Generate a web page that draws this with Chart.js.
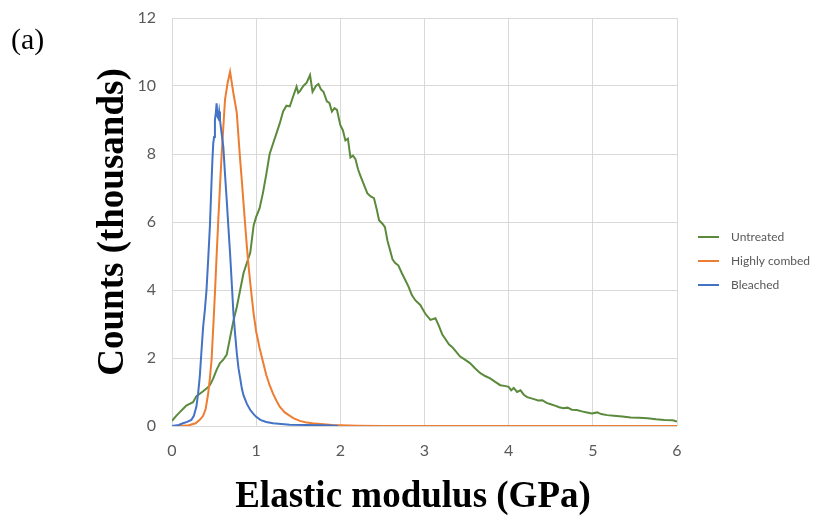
<!DOCTYPE html>
<html>
<head>
<meta charset="utf-8">
<script src="https://cdn.jsdelivr.net/npm/chart.js@4/dist/chart.umd.min.js"></script>
<style>
  html, body { margin: 0; padding: 0; background: #fff; }
  #wrap { width: 825px; height: 519px; position: relative; }
</style>
</head>
<body>
<div id="wrap"><canvas id="chart" width="825" height="519"></canvas></div>
<script>
// Elastic modulus (GPa) vs counts (thousands)
const untreatedX = [0.0, 0.05, 0.09, 0.13, 0.17, 0.21, 0.25, 0.29, 0.33, 0.37, 0.41, 0.45, 0.49, 0.53, 0.57, 0.61, 0.65, 0.69, 0.73, 0.77,
    0.81, 0.85, 0.89, 0.93, 0.97, 1.0, 1.04, 1.08, 1.12, 1.16, 1.20, 1.24, 1.28, 1.32, 1.36, 1.40, 1.44, 1.48, 1.50, 1.52,
    1.56, 1.60, 1.64, 1.67, 1.71, 1.74, 1.77, 1.80, 1.84, 1.87, 1.90, 1.93, 1.96, 2.0, 2.03, 2.06, 2.09, 2.12, 2.15, 2.18,
    2.21, 2.24, 2.28, 2.32, 2.36, 2.40, 2.43, 2.46, 2.50, 2.53, 2.56, 2.59, 2.62, 2.65, 2.69, 2.73, 2.77, 2.81, 2.85, 2.89,
    2.95, 3.01, 3.07, 3.13, 3.17, 3.21, 3.25, 3.29, 3.33, 3.37, 3.42, 3.48, 3.54, 3.60, 3.66, 3.72, 3.78, 3.84, 3.90, 3.95,
    4.0, 4.03, 4.06, 4.10, 4.14, 4.18, 4.22, 4.26, 4.30, 4.35, 4.40, 4.45, 4.50, 4.55, 4.60, 4.65, 4.70, 4.75, 4.81, 4.87,
    4.93, 4.99, 5.05, 5.10, 5.17, 5.25, 5.35, 5.45, 5.55, 5.65, 5.75, 5.85, 5.95, 6.0];
const untreatedY = [0.15, 0.3, 0.4, 0.5, 0.6, 0.65, 0.7, 0.88, 0.95, 1.02, 1.1, 1.2, 1.4, 1.65, 1.85, 1.95, 2.1, 2.6, 3.1, 3.5,
    4.0, 4.5, 4.8, 5.1, 5.9, 6.15, 6.4, 6.85, 7.4, 8.0, 8.3, 8.6, 8.9, 9.25, 9.42, 9.4, 9.7, 9.98, 9.8, 9.85,
    10.0, 10.1, 10.32, 9.83, 10.0, 10.06, 9.9, 9.83, 9.55, 9.5, 9.25, 9.35, 9.3, 8.85, 8.7, 8.4, 8.45, 7.9, 7.95, 7.85,
    7.55, 7.35, 7.1, 6.85, 6.75, 6.7, 6.4, 6.05, 5.95, 5.85, 5.45, 5.18, 4.9, 4.8, 4.72, 4.5, 4.3, 4.1, 3.85, 3.7,
    3.56, 3.3, 3.12, 3.17, 2.95, 2.7, 2.55, 2.4, 2.32, 2.2, 2.05, 1.95, 1.85, 1.7, 1.56, 1.47, 1.4, 1.3, 1.2, 1.18,
    1.15, 1.05, 1.12, 1.0, 1.05, 0.92, 0.85, 0.82, 0.79, 0.75, 0.76, 0.68, 0.64, 0.6, 0.55, 0.52, 0.54, 0.48, 0.47, 0.43,
    0.40, 0.37, 0.40, 0.35, 0.32, 0.30, 0.28, 0.25, 0.24, 0.23, 0.20, 0.18, 0.17, 0.13];

const combedX = [0.0, 0.1, 0.2, 0.28, 0.33, 0.37, 0.40, 0.43, 0.45, 0.47, 0.49, 0.51, 0.53, 0.55, 0.57, 0.59, 0.61, 0.63, 0.66, 0.69,
    0.71, 0.73, 0.75, 0.77, 0.79, 0.81, 0.83, 0.85, 0.87, 0.89, 0.91, 0.93, 0.95, 0.97, 1.0, 1.04, 1.08, 1.12, 1.16, 1.20,
    1.24, 1.28, 1.34, 1.40, 1.44, 1.52, 1.60, 1.70, 1.80, 1.90, 2.0, 2.2, 2.5, 6.0];
const combedY = [0.0, 0.0, 0.02, 0.08, 0.18, 0.3, 0.5, 0.96, 1.4, 1.94, 2.9, 3.9, 5.0, 6.06, 7.04, 8.0, 8.8, 9.6, 10.08, 10.42,
    10.1, 9.78, 9.5, 9.2, 8.5, 7.82, 7.2, 6.55, 5.9, 5.27, 4.7, 4.2, 3.75, 3.3, 2.78, 2.3, 1.9, 1.5, 1.2, 0.95,
    0.75, 0.57, 0.4, 0.3, 0.23, 0.15, 0.1, 0.07, 0.05, 0.03, 0.02, 0.01, 0.0, 0.0];

const bleachedX = [0.0, 0.08, 0.13, 0.18, 0.23, 0.26, 0.29, 0.31, 0.33, 0.35, 0.37, 0.39, 0.41, 0.43, 0.45, 0.47, 0.48, 0.49, 0.50, 0.51,
    0.52, 0.53, 0.54, 0.55, 0.56, 0.57, 0.58, 0.60, 0.61, 0.63, 0.65, 0.67, 0.69, 0.71, 0.73, 0.75, 0.77, 0.79, 0.81, 0.83,
    0.85, 0.89, 0.93, 0.97, 1.0, 1.05, 1.12, 1.2, 1.3, 1.4, 1.6, 1.8, 1.97];
const bleachedY = [0.0, 0.03, 0.08, 0.12, 0.18, 0.3, 0.57, 0.95, 1.45, 2.2, 2.92, 3.4, 4.0, 4.9, 5.86, 7.2, 7.82, 8.31, 8.5, 9.0,
    9.2, 9.49, 9.1, 9.05, 9.25, 9.0, 8.8, 8.4, 8.2, 7.4, 6.65, 5.85, 5.08, 4.2, 3.31, 2.7, 2.14, 1.7, 1.4, 1.1,
    0.9, 0.65, 0.47, 0.35, 0.27, 0.18, 0.12, 0.08, 0.06, 0.04, 0.03, 0.02, 0.01];

const seriesNames = ['Untreated', 'Highly combed', 'Bleached'];
const seriesColors = ['#5b8a3c', '#ed7d31', '#4472c4'];
const xTicks = [0, 1, 2, 3, 4, 5, 6];
const yTicks = [0, 2, 4, 6, 8, 10, 12];

const toPoints = (xs, ys) => xs.map((x, i) => ({ x: x, y: ys[i] }));

// plot area in canvas pixels
const AREA = { left: 172, right: 677, top: 18, bottom: 426 };

const TICK_FAMILY = 'Lato, "Open Sans", sans-serif';
const TICK_COLOR = '#595959';

const overlayPlugin = {
    id: 'overlay',
    afterDraw(chart) {
        const ctx = chart.ctx;
        ctx.save();

        // panel label
        ctx.fillStyle = '#000';
        ctx.font = '30px "Liberation Serif", "Times New Roman", serif';
        ctx.textAlign = 'left';
        ctx.textBaseline = 'middle';
        ctx.fillText('(a)', 11, 41);

        // axis titles
        ctx.font = 'bold 37px "Liberation Serif", "Times New Roman", serif';
        ctx.textAlign = 'center';
        ctx.textBaseline = 'middle';
        ctx.fillText('Elastic modulus (GPa)', 413, 497);

        ctx.translate(113, 222);
        ctx.rotate(-Math.PI / 2);
        ctx.fillText('Counts (thousands)', 0, 0);
        ctx.restore();

        // legend
        ctx.save();
        ctx.font = '12px ' + TICK_FAMILY;
        ctx.textBaseline = 'middle';
        ctx.textAlign = 'left';
        chart.data.datasets.forEach((ds, i) => {
            const y = 237 + i * 24;
            ctx.strokeStyle = ds.borderColor;
            ctx.lineWidth = 2;
            ctx.beginPath();
            ctx.moveTo(698, y);
            ctx.lineTo(719, y);
            ctx.stroke();
            ctx.fillStyle = TICK_COLOR;
            ctx.fillText(ds.label, 731, y);
        });
        ctx.restore();
    }
};

const ctx = document.getElementById('chart');
new Chart(ctx, {
    type: 'line',
    data: {
        datasets: [
            { label: seriesNames[0], data: toPoints(untreatedX, untreatedY), borderColor: seriesColors[0], order: 3 },
            { label: seriesNames[1], data: toPoints(combedX, combedY), borderColor: seriesColors[1], order: 2 },
            { label: seriesNames[2], data: toPoints(bleachedX, bleachedY), borderColor: seriesColors[2], order: 1 }
        ]
    },
    options: {
        responsive: false,
        animation: false,
        layout: {
            padding: { left: 0, right: 825 - AREA.right, top: AREA.top, bottom: 0 }
        },
        elements: {
            line: { borderWidth: 2, tension: 0, fill: false },
            point: { radius: 0 }
        },
        plugins: {
            legend: { display: false },
            tooltip: { enabled: false }
        },
        scales: {
            x: {
                type: 'linear',
                min: 0,
                max: 6,
                afterFit(scale) { scale.height = 519 - AREA.bottom; },
                afterBuildTicks(scale) { scale.ticks = xTicks.map(v => ({ value: v })); },
                border: { display: false },
                grid: { color: '#d9d9d9', lineWidth: 1, drawTicks: false },
                ticks: { padding: 15, color: TICK_COLOR, font: { family: TICK_FAMILY, size: 16 } }
            },
            y: {
                type: 'linear',
                min: 0,
                max: 12,
                afterFit(scale) {
                    scale.width = AREA.left;
                    // tick padding would otherwise push the plot top down
                    scale.paddingTop = 0;
                    scale.paddingBottom = 0;
                },
                afterBuildTicks(scale) { scale.ticks = yTicks.map(v => ({ value: v })); },
                border: { display: false },
                grid: { color: '#d9d9d9', lineWidth: 1, drawTicks: false },
                ticks: { padding: 16, color: TICK_COLOR, font: { family: TICK_FAMILY, size: 16 } }
            }
        }
    },
    plugins: [overlayPlugin]
});
</script>
</body>
</html>
